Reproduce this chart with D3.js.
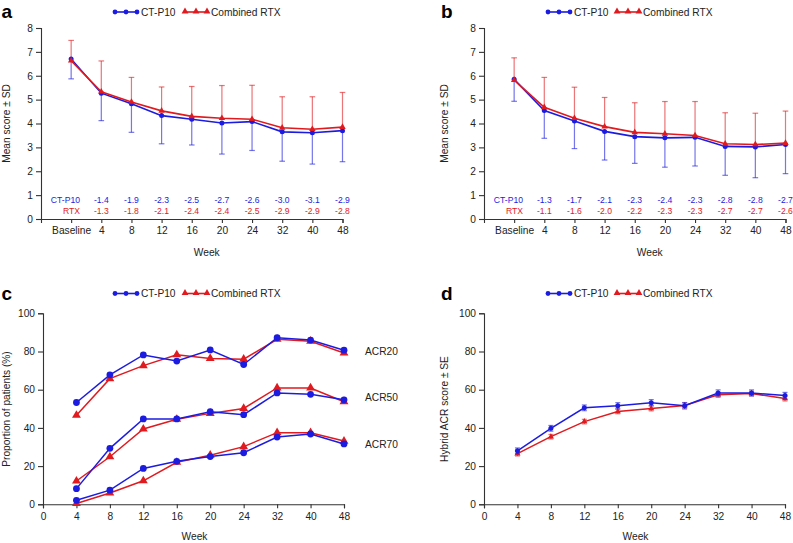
<!DOCTYPE html>
<html><head><meta charset="utf-8">
<script src="https://cdn.jsdelivr.net/npm/d3@7"></script>
<style>body{margin:0;background:#fff}svg{font-family:"Liberation Sans",Arial,sans-serif}</style>
</head><body><svg id="c" width="793" height="543"></svg>
<script>
const BLUE = "#1c1ce0", RED = "#e01a1e", INK = "#222";
// Panels a & b
const weeksAB = ["Baseline","4","8","12","16","20","24","32","40","48"];
const aCT = [6.7,5.27,4.83,4.33,4.18,4.02,4.08,3.65,3.61,3.7];
const aCTsd = [0.83,1.15,1.2,1.18,1.08,1.3,1.21,1.23,1.31,1.3];
const aRTX = [6.63,5.33,4.9,4.53,4.3,4.22,4.18,3.82,3.76,3.85];
const aRTXsd = [0.85,1.29,1.03,1.0,1.25,1.37,1.42,1.3,1.36,1.45];
const aChgCT = ["-1.4","-1.9","-2.3","-2.5","-2.7","-2.6","-3.0","-3.1","-2.9"];
const aChgRTX = ["-1.3","-1.8","-2.1","-2.4","-2.4","-2.5","-2.9","-2.9","-2.8"];
const bCT = [5.85,4.54,4.1,3.67,3.45,3.4,3.42,3.04,3.02,3.12];
const bCTsd = [0.92,1.16,1.15,1.2,1.12,1.23,1.2,1.21,1.29,1.22];
const bRTX = [5.82,4.68,4.22,3.87,3.63,3.57,3.5,3.15,3.12,3.18];
const bRTXsd = [0.93,1.25,1.3,1.22,1.24,1.35,1.42,1.3,1.31,1.34];
const bChgCT = ["-1.3","-1.7","-2.1","-2.3","-2.4","-2.3","-2.8","-2.8","-2.7"];
const bChgRTX = ["-1.1","-1.6","-2.0","-2.2","-2.3","-2.3","-2.7","-2.7","-2.6"];
// Panel c
const weeksCD = ["0","4","8","12","16","20","24","32","40","48"];
const acrWeeks = ["4","8","12","16","20","24","32","40","48"];
const acr20CT = [53.3,67.8,78.2,75.0,80.8,73.2,87.2,86.0,80.7];
const acr20RTX = [46.6,65.8,72.6,78.3,76.4,76.0,86.4,85.4,79.2];
const acr50CT = [8.2,29.3,44.7,44.7,48.5,46.9,58.3,57.6,54.7];
const acr50RTX = [12.2,24.9,39.4,44.5,47.6,50.2,60.9,60.9,53.7];
const acr70CT = [2.1,7.4,18.8,22.5,25.0,27.0,35.2,36.8,31.6];
const acr70RTX = [0.4,5.9,12.3,22.0,25.7,30.2,37.5,37.5,33.1];
const acrLabels = ["ACR20","ACR50","ACR70"];
// Panel d
const hybCT = [28.0,39.8,50.5,51.6,53.2,51.6,58.3,58.3,56.9];
const hybCTse = [1.5,1.5,1.5,1.6,1.6,1.7,1.6,1.6,1.7];
const hybRTX = [26.5,35.4,43.3,48.6,50.2,51.7,57.3,58.0,55.4];
const hybRTXse = [1.2,1.2,1.2,1.2,1.3,1.3,1.3,1.2,1.3];
const legendNames = ["CT-P10","Combined RTX"];

const svg = d3.select("#c");
const FS = 10.2;

function legend(g, x1, x2, y){
  const items = [{x:x1, c:BLUE, s:"circle", t:legendNames[0]},{x:x2, c:RED, s:"tri", t:legendNames[1]}];
  items.forEach(it=>{
    g.append("line").attr("x1",it.x).attr("x2",it.x+22).attr("y1",y).attr("y2",y).attr("stroke",it.c).attr("stroke-width",1.6);
    [0,11,22].forEach(dx=>{
      if(it.s==="circle") g.append("circle").attr("cx",it.x+dx).attr("cy",y).attr("r",2.4).attr("fill",it.c);
      else g.append("path").attr("d",d3.symbol(d3.symbolTriangle,20)()).attr("transform",`translate(${it.x+dx},${y-0.5})`).attr("fill",it.c);
    });
    g.append("text").attr("x",it.x+26).attr("y",y+3.6).attr("font-size",FS).attr("fill",INK).text(it.t);
  });
}

function styleAxis(ax){
  ax.select(".domain").attr("stroke","#333").attr("stroke-width",1.1);
  ax.selectAll(".tick line").attr("stroke","#333").attr("stroke-width",1.1);
  ax.selectAll(".tick text").attr("fill",INK).attr("font-size",FS).attr("font-family","Liberation Sans, Arial, sans-serif");
}

function panelAB(ox, label, ct, ctsd, rtx, rtxsd, chgCT, chgRTX, ytx, lx, leg){
  const g = svg.append("g");
  const x0 = ox+41, x1 = ox+342.5;
  const x = d3.scalePoint().domain(["_"].concat(weeksAB)).range([x0,x1]);
  const y = d3.scaleLinear().domain([0,8]).range([219,28]);
  const ya = g.append("g").attr("transform",`translate(${x0},0)`).call(d3.axisLeft(y).ticks(8).tickSize(5).tickPadding(3));
  styleAxis(ya);
  const xa = g.append("g").attr("transform",`translate(0,219)`).call(d3.axisBottom(x).tickValues(weeksAB).tickSize(4).tickPadding(4));
  styleAxis(xa);
  const eb = (vals, sd, dir, col) => {
    weeksAB.forEach((w,i)=>{
      const xx = x(w), yv = y(vals[i]), ye = y(vals[i]+dir*sd[i]);
      g.append("line").attr("x1",xx).attr("x2",xx).attr("y1",yv).attr("y2",ye).attr("stroke",col).attr("stroke-width",1.2).attr("opacity",0.6);
      g.append("line").attr("x1",xx-2.8).attr("x2",xx+2.8).attr("y1",ye).attr("y2",ye).attr("stroke",col).attr("stroke-width",1.2).attr("opacity",0.6);
    });
  };
  eb(ct, ctsd, -1, BLUE);
  eb(rtx, rtxsd, 1, RED);
  const line = d3.line().x((d,i)=>x(weeksAB[i])).y(d=>y(d));
  g.append("path").attr("d",line(ct)).attr("fill","none").attr("stroke",BLUE).attr("stroke-width",1.6);
  ct.forEach((v,i)=>g.append("circle").attr("cx",x(weeksAB[i])).attr("cy",y(v)).attr("r",2.5).attr("fill",BLUE));
  g.append("path").attr("d",line(rtx)).attr("fill","none").attr("stroke",RED).attr("stroke-width",1.6);
  rtx.forEach((v,i)=>g.append("path").attr("d",d3.symbol(d3.symbolTriangle,18)()).attr("transform",`translate(${x(weeksAB[i])},${y(v)})`).attr("fill",RED));
  const VF = 8.6;
  g.append("text").attr("x",ox+80).attr("y",203).attr("text-anchor","end").attr("font-size",VF).attr("fill",BLUE).text("CT-P10");
  g.append("text").attr("x",ox+80).attr("y",214).attr("text-anchor","end").attr("font-size",VF).attr("fill",RED).text("RTX");
  weeksAB.slice(1).forEach((w,i)=>{
    g.append("text").attr("x",x(w)).attr("y",203).attr("text-anchor","middle").attr("font-size",VF).attr("fill",BLUE).text(chgCT[i]);
    g.append("text").attr("x",x(w)).attr("y",214).attr("text-anchor","middle").attr("font-size",VF).attr("fill",RED).text(chgRTX[i]);
  });
  g.append("text").attr("transform",`translate(${ytx},${123.5}) rotate(-90)`).attr("text-anchor","middle").attr("font-size",FS).attr("fill",INK).text("Mean score ± SD");
  g.append("text").attr("x",(x0+x1)/2+15).attr("y",255.5).attr("text-anchor","middle").attr("font-size",FS).attr("fill",INK).text("Week");
  g.append("text").attr("x",lx).attr("y",18).attr("font-size",19).attr("font-weight","bold").attr("fill","#000").text(label);
  legend(g, leg[0], leg[1], 12);
}

panelAB(0,"a",aCT,aCTsd,aRTX,aRTXsd,aChgCT,aChgRTX, 9.5, 1.5, [115,185]);
panelAB(443,"b",bCT,bCTsd,bRTX,bRTXsd,bChgCT,bChgRTX, 447.5, 441, [548,617]);

function panelCD(ox, label, ytx, lx, leg){
  const g = svg.append("g");
  const x0 = ox+43, x1 = ox+344;
  const x = d3.scalePoint().domain(weeksCD).range([x0,x1]);
  const y = d3.scaleLinear().domain([0,100]).range([504.3,313.3]);
  const ya = g.append("g").attr("transform",`translate(${x0},0)`).call(d3.axisLeft(y).tickValues([0,20,40,60,80,100]).tickSize(5).tickPadding(3));
  styleAxis(ya);
  const xa = g.append("g").attr("transform",`translate(0,504.3)`).call(d3.axisBottom(x).tickSize(4).tickPadding(4));
  styleAxis(xa);
  const line = d3.line().x((d,i)=>x(acrWeeks[i])).y(d=>y(d));
  if(label==="c"){
    const sets = [[acr20CT,acr20RTX],[acr50CT,acr50RTX],[acr70CT,acr70RTX]];
    sets.forEach(([ct,rtx])=>{
      g.append("path").attr("d",line(rtx)).attr("fill","none").attr("stroke",RED).attr("stroke-width",1.5);
      rtx.forEach((v,i)=>g.append("path").attr("d",d3.symbol(d3.symbolTriangle,34)()).attr("transform",`translate(${x(acrWeeks[i])},${y(v)})`).attr("fill",RED));
      g.append("path").attr("d",line(ct)).attr("fill","none").attr("stroke",BLUE).attr("stroke-width",1.5);
      ct.forEach((v,i)=>g.append("circle").attr("cx",x(acrWeeks[i])).attr("cy",y(v)).attr("r",3.4).attr("fill",BLUE));
    });
    const ly = [351.7,397.7,444.3];
    acrLabels.forEach((t,i)=>g.append("text").attr("x",ox+365).attr("y",ly[i]+3.6).attr("font-size",FS).attr("fill",INK).text(t));
    g.append("text").attr("transform",`translate(${ytx},409) rotate(-90)`).attr("text-anchor","middle").attr("font-size",FS).attr("fill",INK).text("Proportion of patients (%)");
  } else {
    const eb = (vals, se, col) => {
      acrWeeks.forEach((w,i)=>{
        const xx = x(w), ya1 = y(vals[i]-se[i]), yb = y(vals[i]+se[i]);
        g.append("line").attr("x1",xx).attr("x2",xx).attr("y1",ya1).attr("y2",yb).attr("stroke",col).attr("stroke-width",1.1).attr("opacity",0.65);
        [ya1,yb].forEach(yy=>g.append("line").attr("x1",xx-2.5).attr("x2",xx+2.5).attr("y1",yy).attr("y2",yy).attr("stroke",col).attr("stroke-width",1.1).attr("opacity",0.65));
      });
    };
    eb(hybRTX,hybRTXse,RED);
    g.append("path").attr("d",line(hybRTX)).attr("fill","none").attr("stroke",RED).attr("stroke-width",1.5);
    hybRTX.forEach((v,i)=>g.append("path").attr("d",d3.symbol(d3.symbolTriangle,16)()).attr("transform",`translate(${x(acrWeeks[i])},${y(v)})`).attr("fill",RED));
    eb(hybCT,hybCTse,BLUE);
    g.append("path").attr("d",line(hybCT)).attr("fill","none").attr("stroke",BLUE).attr("stroke-width",1.5);
    hybCT.forEach((v,i)=>g.append("circle").attr("cx",x(acrWeeks[i])).attr("cy",y(v)).attr("r",2.5).attr("fill",BLUE));
    g.append("text").attr("transform",`translate(${ytx},409) rotate(-90)`).attr("text-anchor","middle").attr("font-size",FS).attr("fill",INK).text("Hybrid ACR score ± SE");
  }
  g.append("text").attr("x",(x0+x1)/2+1).attr("y",539.5).attr("text-anchor","middle").attr("font-size",FS).attr("fill",INK).text("Week");
  g.append("text").attr("x",lx).attr("y",299.5).attr("font-size",19).attr("font-weight","bold").attr("fill","#000").text(label);
  legend(g, leg[0], leg[1], 293.5);
}
panelCD(0,"c", 9.5, 1.5, [115,185]);
panelCD(441,"d", 447.5, 441, [548,617]);
</script></body></html>
